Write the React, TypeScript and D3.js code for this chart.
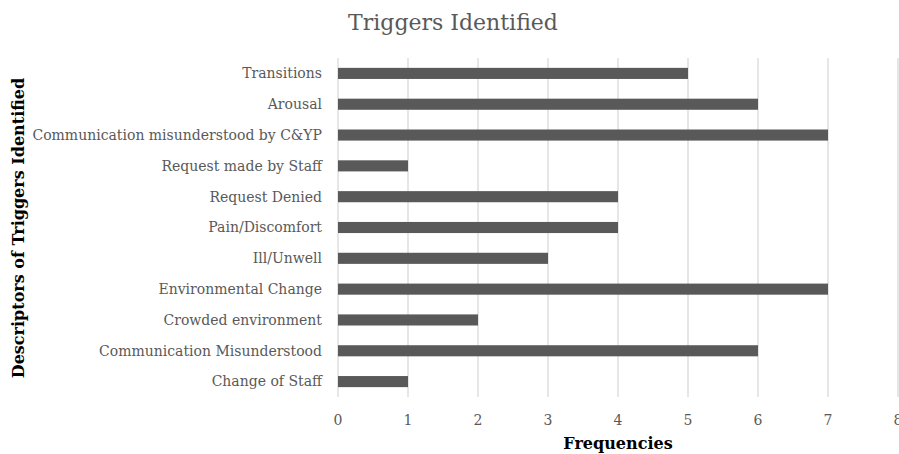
import React from "react";
import * as d3 from "d3";

const categories = [
  "Transitions",
  "Arousal",
  "Communication misunderstood by C&YP",
  "Request made by Staff",
  "Request Denied",
  "Pain/Discomfort",
  "Ill/Unwell",
  "Environmental Change",
  "Crowded environment",
  "Communication Misunderstood",
  "Change of Staff",
];
const values = [5, 6, 7, 1, 4, 4, 3, 7, 2, 6, 1];
const xTicks = [0, 1, 2, 3, 4, 5, 6, 7, 8];

const W = 899;
const H = 454;
const FONT = "'DejaVu Serif', serif";

export default function App() {
  const x = d3.scaleLinear().domain([0, 8]).range([338, 898]);
  const y = d3.scaleBand<string>().domain(categories).range([58, 397]).paddingInner(0.64).paddingOuter(0.32);
  return (
    <svg width={W} height={H} style={{ position: "absolute", left: 0, top: 0, background: "#fff" }}>
      <text x={453} y={30} textAnchor="middle" fontFamily={FONT} fontSize={22} fill="#595959">
        Triggers Identified
      </text>
      {xTicks.map((t) => (
        <g key={t}>
          <line x1={x(t)} x2={x(t)} y1={58} y2={397} stroke="#d9d9d9" strokeWidth={1.3} />
          <text x={x(t)} y={425} textAnchor="middle" fontFamily={FONT} fontSize={14} fill="#595959">
            {t}
          </text>
        </g>
      ))}
      {categories.map((c, i) => (
        <g key={c}>
          <rect x={x(0)} y={y(c)!} width={x(values[i]) - x(0)} height={y.bandwidth()} fill="#595959" />
          <text
            x={322}
            y={y(c)! + y.bandwidth() / 2}
            dy="0.35em"
            textAnchor="end"
            fontFamily={FONT}
            fontSize={14}
            fill="#595959"
          >
            {c}
          </text>
        </g>
      ))}
      <text x={618} y={449} textAnchor="middle" fontFamily={FONT} fontSize={16} fontWeight="bold" fill="#000">
        Frequencies
      </text>
      <text
        transform="translate(24,228) rotate(-90)"
        textAnchor="middle"
        fontFamily={FONT}
        fontSize={16}
        fontWeight="bold"
        fill="#000"
      >
        Descriptors of Triggers Identified
      </text>
    </svg>
  );
}
